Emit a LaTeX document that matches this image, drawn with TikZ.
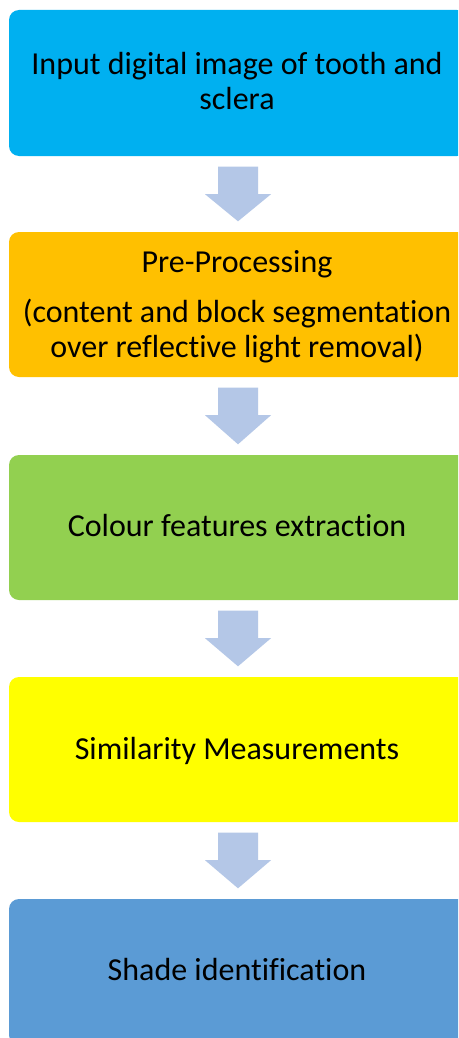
\documentclass[tikz,border=0pt]{standalone}
\usepackage{fontspec}
\setmainfont[Ligatures={NoCommon}]{Carlito}
\usetikzlibrary{calc}
\definecolor{cCyan}{HTML}{00B0F0}
\definecolor{cOrange}{HTML}{FFC000}
\definecolor{cGreen}{HTML}{92D050}
\definecolor{cYellow}{HTML}{FFFF00}
\definecolor{cBlue}{HTML}{5B9BD5}
\definecolor{cArrow}{HTML}{B4C7E7}
\tikzset{
  stepbox/.style={rectangle, rounded corners=10pt, minimum width=458pt, inner sep=0pt, draw=none},
  txt/.style={anchor=base, inner sep=0pt, font=\fontsize{32}{38}\selectfont, text=black},
  blockarrow/.style={fill=cArrow, draw=none}
}
\newcommand{\blockarr}[2]{%
  \fill[blockarrow]
    ($(#1.south)+(-20,10.5)$) -- ($(#1.south)+(20,10.5)$) --
    ($(#1.south)+(20,38)$) -- ($(#1.south)+(33,38)$) --
    ($(#2.north)+(0,-10.5)$) --
    ($(#1.south)+(-33,38)$) -- ($(#1.south)+(-20,38)$) -- cycle;}
\begin{document}
\begin{tikzpicture}[x=1pt,y=-1pt]
\clip (0,0) rectangle (458,1038);
\fill[white] (0,0) rectangle (458,1038);
\node[stepbox, fill=cCyan, minimum height=146pt] (b1) at (238,83) {};
\node[stepbox, fill=cOrange, minimum height=145pt] (b2) at (238,304.5) {};
\node[stepbox, fill=cGreen, minimum height=145pt] (b3) at (238,527.5) {};
\node[stepbox, fill=cYellow, minimum height=145pt] (b4) at (238,749.5) {};
\node[stepbox, fill=cBlue, minimum height=146pt] (b5) at (238,972) {};
\node[txt] (t1a) at (237,75) {Input digital image of tooth and};
\node[txt] (t1b) at (237,110) {sclera};
\node[txt] (t2a) at (237,272) {Pre-Processing};
\node[txt] (t2b) at (237,322) {(content and block segmentation};
\node[txt] (t2c) at (237,357) {over reflective light removal)};
\node[txt] (t3) at (237,536) {Colour features extraction};
\node[txt] (t4) at (237,759) {Similarity Measurements};
\node[txt] (t5) at (237,980) {Shade identification};
\blockarr{b1}{b2}
\blockarr{b2}{b3}
\blockarr{b3}{b4}
\blockarr{b4}{b5}
\end{tikzpicture}
\end{document}
